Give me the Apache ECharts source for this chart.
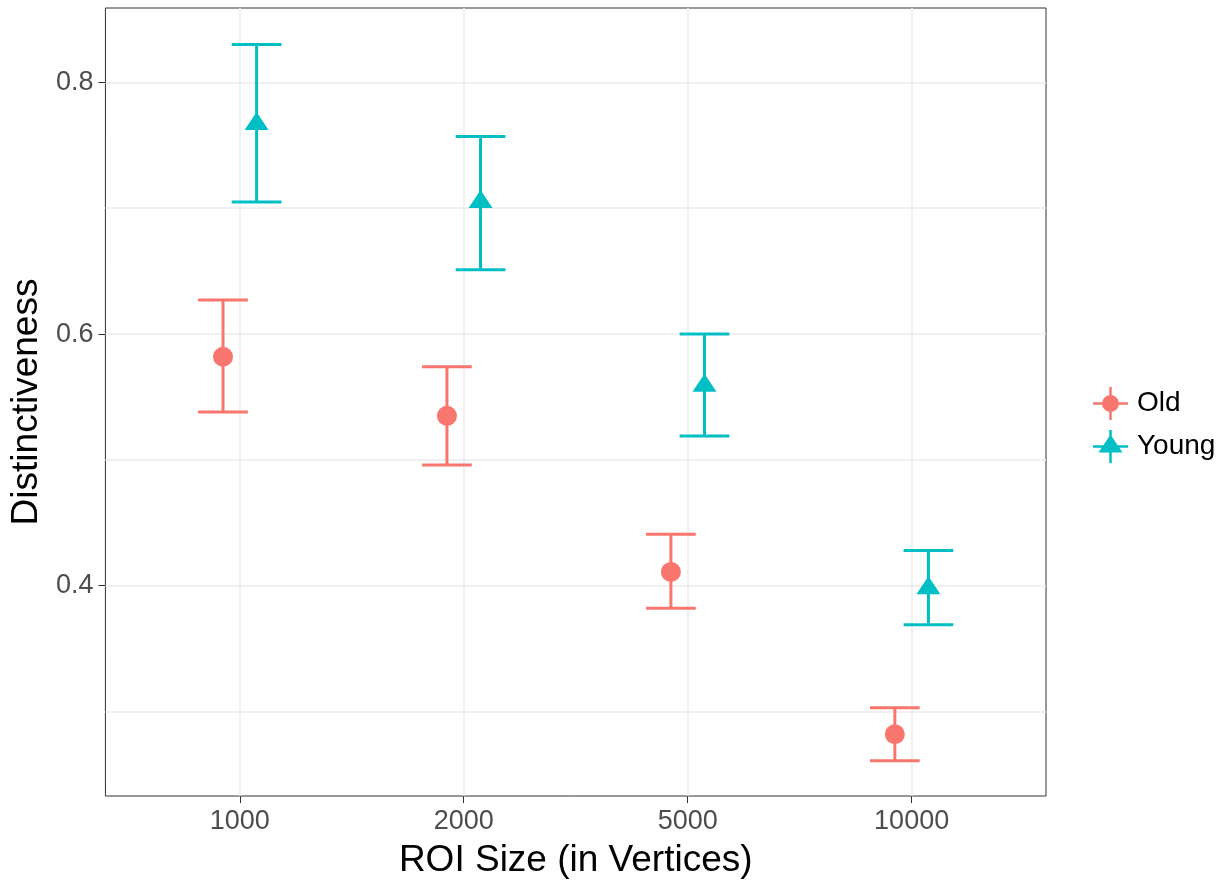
<!DOCTYPE html>
<html>
<head>
<meta charset="utf-8">
<script src="https://cdn.jsdelivr.net/npm/echarts@6/dist/echarts.min.js"></script>
<style>
  html, body { margin: 0; padding: 0; background: #fff; }
  #chart { width: 1231px; height: 884px; }
</style>
</head>
<body>
<div id="chart"></div>
<script>
// valores
const categories = ['1000', '2000', '5000', '10000'];
const oldMean  = [0.582, 0.535, 0.411, 0.282];
const oldLow   = [0.538, 0.496, 0.382, 0.261];
const oldHigh  = [0.627, 0.574, 0.441, 0.303];
const youngMean = [0.767, 0.705, 0.559, 0.398];
const youngLow  = [0.705, 0.651, 0.519, 0.369];
const youngHigh = [0.830, 0.757, 0.600, 0.428];
const yTickLabels = [0.4, 0.6, 0.8];
const yGridValues = [0.3, 0.4, 0.5, 0.6, 0.7, 0.8];

const dodge = 0.075;
const capHalf = 0.111;
const font = 'Liberation Sans, Arial, sans-serif';
const colOld = '#F8766D';
const colYoung = '#00BFC4';

const catPos = categories.map((c, i) => i + 1);

const pointData = (means, off) => means.map((v, i) => [catPos[i] + off, v]);
const barData = (lo, hi, off) => lo.map((v, i) => [catPos[i] + off, v, hi[i]]);

const renderErrorBar = (params, api) => {
  const x = api.value(0);
  const lo = api.coord([x, api.value(1)]);
  const hi = api.coord([x, api.value(2)]);
  const half = api.size([capHalf, 0])[0];
  const style = { stroke: api.visual('color'), lineWidth: 3 };
  return {
    type: 'group',
    children: [
      { type: 'line', shape: { x1: lo[0], y1: lo[1], x2: hi[0], y2: hi[1] }, style },
      { type: 'line', shape: { x1: lo[0] - half, y1: lo[1], x2: lo[0] + half, y2: lo[1] }, style },
      { type: 'line', shape: { x1: hi[0] - half, y1: hi[1], x2: hi[0] + half, y2: hi[1] }, style }
    ]
  };
};

const iconOld = 'path://M9 16.5 A8.5 8.5 0 1 1 26 16.5 A8.5 8.5 0 1 1 9 16.5 Z M0 15.25 H35 V17.75 H0 Z M16.25 0 H18.75 V33 H16.25 Z';
const iconYoung = 'path://M17.5 4.5 L29.5 22.5 L5.5 22.5 Z M0 15.25 H35 V17.75 H0 Z M16.25 0 H18.75 V33 H16.25 Z';

const getOption = () => {
  return {
    animation: false,
    backgroundColor: '#fff',
    grid: {
      left: 104, right: 185, top: 8, bottom: 87,
      show: true, borderColor: '#333', borderWidth: 1, backgroundColor: '#fff'
    },
    legend: {
      orient: 'vertical',
      left: 1093, top: 387,
      itemWidth: 35, itemHeight: 33, itemGap: 10,
      padding: 0,
      textStyle: { fontFamily: font, fontSize: 28, color: '#000', padding: [0, 0, 0, 4] },
      data: [
        { name: 'Old', icon: iconOld },
        { name: 'Young', icon: iconYoung }
      ]
    },
    xAxis: {
      type: 'value',
      min: 0.4, max: 4.6,
      name: 'ROI Size (in Vertices)',
      nameLocation: 'middle',
      nameGap: 46,
      nameTextStyle: { fontFamily: font, fontSize: 37, color: '#000' },
      axisLine: { show: false },
      axisTick: { show: true, length: 7, lineStyle: { color: '#333', width: 1 }, customValues: catPos },
      axisLabel: {
        customValues: catPos,
        margin: 12,
        fontFamily: font, fontSize: 27, color: '#4D4D4D',
        formatter: v => categories[Math.round(v) - 1]
      },
      splitLine: { show: true, lineStyle: { color: '#EBEBEB', width: 1.5 } }
    },
    yAxis: [
      {
        type: 'value',
        min: 0.2329, max: 0.8591,
        name: 'Distinctiveness',
        nameLocation: 'middle',
        nameGap: 51,
        nameTextStyle: { fontFamily: font, fontSize: 37, color: '#000' },
        axisLine: { show: false },
        axisTick: { show: true, length: 7, lineStyle: { color: '#333', width: 1 }, customValues: yTickLabels },
        axisLabel: {
          customValues: yTickLabels,
          margin: 12,
          fontFamily: font, fontSize: 27, color: '#4D4D4D',
          formatter: v => v.toFixed(1)
        },
        splitLine: { show: false }
      },
      {
        type: 'value',
        min: 0.2329, max: 0.8591,
        position: 'left',
        axisLine: { show: false },
        axisTick: { show: false, customValues: yGridValues },
        axisLabel: { show: false },
        splitLine: { show: true, lineStyle: { color: '#EBEBEB', width: 1.5 } }
      }
    ],
    series: [
      {
        name: 'Old', type: 'scatter', z: 4,
        symbol: 'circle', symbolSize: 20,
        itemStyle: { color: colOld, opacity: 1 },
        data: pointData(oldMean, -dodge)
      },
      {
        name: 'Young', type: 'scatter', z: 4,
        symbol: 'triangle', symbolSize: [24, 18], symbolOffset: [0, -3],
        itemStyle: { color: colYoung, opacity: 1 },
        data: pointData(youngMean, dodge)
      },
      {
        name: 'Old', type: 'custom', z: 3,
        renderItem: renderErrorBar,
        itemStyle: { color: colOld },
        encode: { x: 0, y: [1, 2] },
        data: barData(oldLow, oldHigh, -dodge)
      },
      {
        name: 'Young', type: 'custom', z: 3,
        renderItem: renderErrorBar,
        itemStyle: { color: colYoung },
        encode: { x: 0, y: [1, 2] },
        data: barData(youngLow, youngHigh, dodge)
      }
    ]
  };
};

const iniciarChart = () => {
  const chart = echarts.init(document.getElementById('chart'));
  chart.setOption(getOption());
};

window.addEventListener('load', () => {
  iniciarChart();
});
</script>
</body>
</html>
